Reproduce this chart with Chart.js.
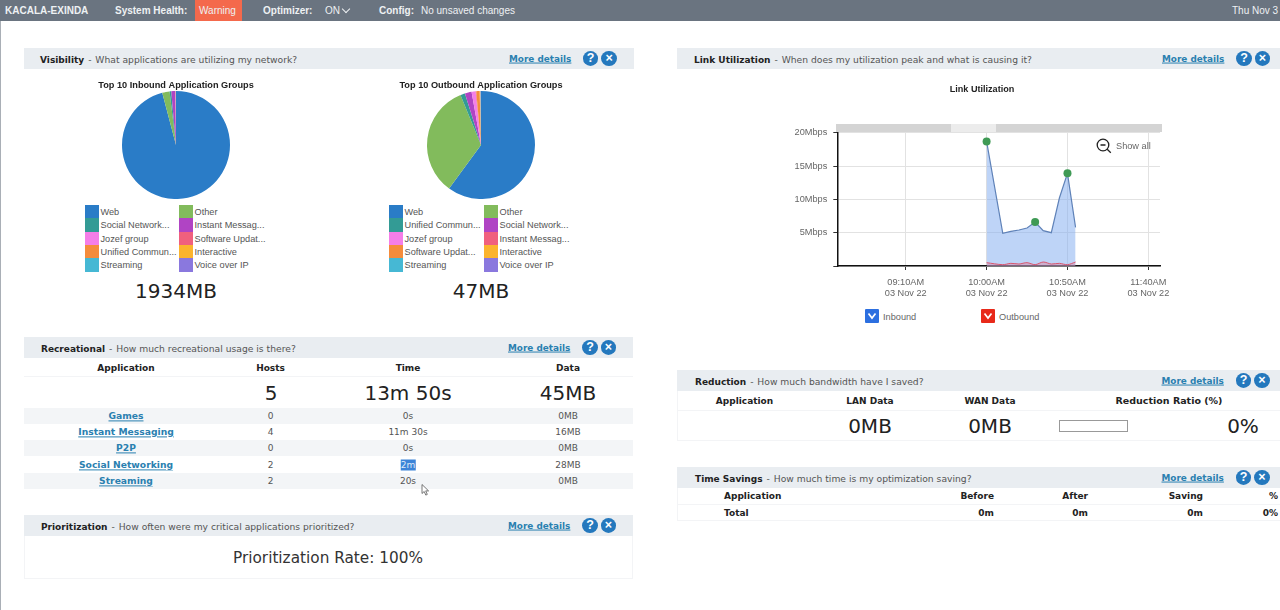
<!DOCTYPE html>
<html>
<head>
<meta charset="utf-8">
<title>KACALA-EXINDA</title>
<script src="https://cdn.jsdelivr.net/npm/chart.js@4"></script>
<style>
    html, body { margin: 0; padding: 0; background: #fff; }
    body { width: 1280px; height: 610px; overflow: hidden; position: relative; font-family: "DejaVu Sans", sans-serif; color: #333; filter: blur(0.3px); }
    .abs { position: absolute; white-space: nowrap; line-height: 1; }
    .box { position: absolute; }
    canvas { position: absolute; }
    #topbar { position: absolute; left: 0; top: 0; width: 1280px; height: 21px; background: #6a7480; }
    #leftline { position: absolute; left: 0; top: 21px; width: 1px; height: 589px; background: #a9afb6; }
    .head { position: absolute; height: 21px; background: #e9edf1; }
    .head-title { font-size: 9.2px; color: #555; }
    .head-title b { color: #222; font-size: 9px; margin-right: 1px; }
    .head-title i { font-style: normal; margin-right: 1px; }
    .more { font-size: 8.9px; font-weight: bold; color: #2a80b0; text-decoration: underline; }
    .btn { position: absolute; width: 15.5px; height: 15px; border-radius: 50%; background: #2478bd; color: #fff; font: bold 12.5px/15px "Liberation Sans", sans-serif; text-align: center; }
    .lg { font-family: "Liberation Sans", sans-serif; font-size: 9.2px; color: #555; }
    .big { font-size: 20px; color: #222; }
    .th { font-size: 9px; font-weight: bold; color: #222; }
    .td { font-size: 9px; color: #555; }
    .lnk { font-size: 9.2px; font-weight: bold; color: #2a80b0; text-decoration: underline; }
    .ax { font-family: "Liberation Sans", sans-serif; font-size: 9.2px; color: #666; }
</style>
</head>
<body>
<div id="topbar"></div>
<div id="leftline"></div>
<canvas id="inbound-pie" width="200" height="121" style="left:76px;top:78px"></canvas>
<canvas id="outbound-pie" width="200" height="121" style="left:381px;top:78px"></canvas>
<canvas id="link-chart" width="404" height="230" style="left:780px;top:70px"></canvas>
<script>
// Pie data, percent of total
const inboundGroups = ['Web', 'Other', 'Social Network...', 'Instant Messag...', 'Jozef group', 'Software Updat...', 'Unified Commun...', 'Interactive', 'Streaming', 'Voice over IP'];
const inboundShares = [95.9, 2.2, 0.5, 1.2, 0.05, 0.05, 0.03, 0.03, 0.02, 0.02];
const inboundColors = ['#2a7cc7', '#82bb5c', '#339b95', '#b044c4', '#f57ee8', '#f0607e', '#f58c3c', '#fbb42e', '#46b8d4', '#8a78de'];
const outboundGroups = ['Web', 'Other', 'Unified Commun...', 'Social Network...', 'Jozef group', 'Instant Messag...', 'Software Updat...', 'Interactive', 'Streaming', 'Voice over IP'];
const outboundShares = [60.0, 33.7, 1.4, 2.0, 1.2, 0.2, 1.0, 0.2, 0.1, 0.1];
const outboundColors = ['#2a7cc7', '#82bb5c', '#339b95', '#b044c4', '#f57ee8', '#f0607e', '#f58c3c', '#fbb42e', '#46b8d4', '#8a78de'];

// Link utilization, x is minutes since midnight, y is Mbps
const linkMinutes = [600, 610, 615, 620, 625, 630, 635, 640, 645, 650, 655];
const inboundMbps = [18.7, 4.9, 5.2, 5.4, 5.7, 6.6, 5.3, 5.0, 10.2, 13.9, 5.8];
const outboundMbps = [0.5, 0.2, 0.4, 0.3, 0.5, 0.2, 0.6, 0.3, 0.4, 0.2, 0.6];
const peakMinutes = [600, 630, 650];
const xTickMinutes = [550, 600, 650, 700];
const xTickTimes = ['09:10AM', '10:00AM', '10:50AM', '11:40AM'];
const xTickDate = '03 Nov 22';

// Recreational table
const recApps = ['Games', 'Instant Messaging', 'P2P', 'Social Networking', 'Streaming'];
const recHosts = ['0', '4', '0', '2', '2'];
const recTimes = ['0s', '11m 30s', '0s', '2m', '20s'];
const recData = ['0MB', '16MB', '0MB', '28MB', '0MB'];

function put(x, y, html, cls, align) {
    // align: c = centered on x, r = right edge on x, otherwise left edge on x
    const el = document.createElement('div');
    el.className = 'abs ' + (cls || '');
    el.innerHTML = html;
    el.style.left = x + 'px';
    el.style.top = y + 'px';
    const dx = align === 'c' ? '-50%' : (align === 'r' ? '-100%' : '0');
    el.style.transform = 'translate(' + dx + ',-50%)';
    document.body.appendChild(el);
    return el;
}

function rect(x, y, w, h, css) {
    const el = document.createElement('div');
    el.className = 'box';
    el.style.cssText = 'left:' + x + 'px;top:' + y + 'px;width:' + w + 'px;height:' + h + 'px;' + css;
    document.body.appendChild(el);
    return el;
}

function panelHead(x, y, w, title, question, textX, moreX, btnX) {
    const h = document.createElement('div');
    h.className = 'head';
    h.style.left = x + 'px';
    h.style.top = y + 'px';
    h.style.width = w + 'px';
    document.body.appendChild(h);
    put(textX, y + 12, '<b>' + title + '</b> <i>-</i> ' + question, 'head-title');
    put(moreX, y + 10.5, 'More details', 'more');
    [btnX, btnX + 18.5].forEach((bx, i) => {
        const b = document.createElement('div');
        b.className = 'btn';
        b.style.left = (bx - 7.75) + 'px';
        b.style.top = (y + 3) + 'px';
        b.textContent = i === 0 ? '?' : '×';
        document.body.appendChild(b);
    });
}

function drawLegend(groupsLeft, colorsLeft, groupsRight, colorsRight, x1, x2) {
    const rows = [212, 225, 239, 252, 265];
    rows.forEach((y, i) => {
        rect(x1 - 0.5, y - 6.7, 14, 13.4, 'background:' + colorsLeft[i]);
        put(x1 + 15.5, y + 1, groupsLeft[i], 'lg');
        rect(x2 - 0.5, y - 6.7, 14, 13.4, 'background:' + colorsRight[i]);
        put(x2 + 15.5, y + 1, groupsRight[i], 'lg');
    });
}

function buildTopbar() {
    rect(195, 0, 47, 21, 'background:#f4694c');
    const items = [[5, '<b>KACALA-EXINDA</b>'], [115, '<b>System Health:</b>'], [199, 'Warning'], [263, '<b>Optimizer:</b>'], [325, 'ON'], [379, '<b>Config:</b>'], [421, 'No unsaved changes'], [1232, 'Thu Nov 3']];
    items.forEach(it => {
        put(it[0], 10, it[1], '').style.cssText += ';font:10px "Liberation Sans";color:#eef1f3';
    });
    rect(343, 5.5, 5, 5, 'border-right:1.6px solid #eef1f3;border-bottom:1.6px solid #eef1f3;transform:rotate(45deg)');
}

function buildVisibility() {
    panelHead(24, 48, 610, 'Visibility', 'What applications are utilizing my network?', 40, 509, 590.7);
    // legend order runs down the columns
    const leftIdx = [0, 2, 4, 6, 8];
    const rightIdx = [1, 3, 5, 7, 9];
    drawLegend(leftIdx.map(i => inboundGroups[i]), leftIdx.map(i => inboundColors[i]),
        rightIdx.map(i => inboundGroups[i]), rightIdx.map(i => inboundColors[i]), 85, 179);
    drawLegend(leftIdx.map(i => outboundGroups[i]), leftIdx.map(i => outboundColors[i]),
        rightIdx.map(i => outboundGroups[i]), rightIdx.map(i => outboundColors[i]), 389, 484);
    put(176, 291, '1934MB', 'big', 'c');
    put(481, 291, '47MB', 'big', 'c');
}

function buildRecreational() {
    panelHead(24, 337, 609, 'Recreational', 'How much recreational usage is there?', 41, 508, 590);
    rect(24, 376, 609, 1, 'background:#f3f4f6');
    put(126, 367.5, 'Application', 'th', 'c');
    put(270.5, 367.5, 'Hosts', 'th', 'c');
    put(408, 367.5, 'Time', 'th', 'c');
    put(568, 367.5, 'Data', 'th', 'c');
    put(271, 393, '5', 'big', 'c');
    put(408, 393, '13m 50s', 'big', 'c');
    put(568, 393, '45MB', 'big', 'c');
    const rowY = [415.5, 432, 448, 464.5, 480.5];
    recApps.forEach((app, i) => {
        if (i % 2 === 0) rect(24, rowY[i] - 8, 609, 16.3, 'background:#f3f5f7');
    });
    recApps.forEach((app, i) => {
        put(126, rowY[i], app, 'lnk', 'c');
        put(270.5, rowY[i], recHosts[i], 'td', 'c');
        const t = put(408, rowY[i], recTimes[i], 'td', 'c');
        if (recTimes[i] === '2m') {
            t.style.background = '#3c84d8';
            t.style.color = '#dfeaf7';
            t.style.padding = '1px 0';
        }
        put(568, rowY[i], recData[i], 'td', 'c');
    });
    // mouse pointer left on the screen
    const cur = put(421, 490, '<svg width="9" height="13" viewBox="0 0 9 13"><path d="M1 1v9l2.2-2 1.6 3.6 1.5-.7L4.7 7.4H7.6z" fill="#fff" stroke="#555" stroke-width=".8"/></svg>', '');
    cur.style.lineHeight = '0';
}

function buildPrioritization() {
    panelHead(24, 515, 609, 'Prioritization', 'How often were my critical applications prioritized?', 41, 508, 590);
    rect(24, 536, 609, 43, 'border:1px solid #f3f4f6;border-top:none;box-sizing:border-box');
    put(328, 558.5, 'Prioritization Rate: 100%', '', 'c').style.cssText += ';font-size:15.3px;color:#333';
}

function buildLinkChrome() {
    panelHead(677, 48, 603, 'Link Utilization', 'When does my utilization peak and what is causing it?', 694, 1162, 1244);
    // navigator strip above the plot
    rect(836, 124, 326, 8, 'background:#d4d4d4');
    rect(950.5, 124, 45, 8, 'background:#ececec');
    const zoomIcon = put(1096, 146, '<svg width="16" height="16" viewBox="0 0 16 16"><circle cx="7" cy="7" r="5.8" fill="none" stroke="#222" stroke-width="1.3"/><path d="M4.5 7h5M11.2 11.2l3.6 3.6" stroke="#222" stroke-width="1.3" fill="none"/></svg>', '');
    zoomIcon.style.lineHeight = '0';
    put(1116, 147, 'Show all', 'ax');
    const check = '<svg width="10" height="8" viewBox="0 0 10 8"><path d="M1.5 1.5L5 6l3.5-4.5" fill="none" stroke="#fff" stroke-width="1.7"/></svg>';
    rect(865, 309, 14, 14, 'background:#2c6fe0;border-radius:1px');
    put(872, 316, check, '', 'c').style.lineHeight = '0';
    put(883, 318, 'Inbound', 'ax');
    rect(981, 309, 14, 14, 'background:#e8291a;border-radius:1px');
    put(988, 316, check, '', 'c').style.lineHeight = '0';
    put(999, 318, 'Outbound', 'ax');
}

function buildReduction() {
    panelHead(677, 370, 603, 'Reduction', 'How much bandwidth have I saved?', 695, 1161.5, 1243.5);
    rect(677, 391, 603, 50, 'border-left:1px solid #f3f4f6;border-bottom:1px solid #f3f4f6;box-sizing:border-box');
    rect(677, 410, 603, 1, 'background:#f3f4f6');
    put(744.5, 401, 'Application', 'th', 'c');
    put(870, 401, 'LAN Data', 'th', 'c');
    put(990, 401, 'WAN Data', 'th', 'c');
    put(1169, 401, 'Reduction Ratio (%)', 'th', 'c').style.fontSize = '9.5px';
    put(870, 426, '0MB', 'big', 'c');
    put(990, 426, '0MB', 'big', 'c');
    rect(1059, 419.5, 69, 12, 'background:#fff;border:1px solid #999;box-sizing:border-box');
    put(1243, 426, '0%', 'big', 'c');
}

function buildTimeSavings() {
    panelHead(677, 467, 603, 'Time Savings', 'How much time is my optimization saving?', 695, 1161.5, 1243.5);
    rect(677, 488, 603, 33, 'border-left:1px solid #f3f4f6;border-bottom:1px solid #f3f4f6;box-sizing:border-box');
    rect(677, 504, 603, 1, 'background:#f3f4f6');
    put(724, 496, 'Application', 'th');
    put(994, 496, 'Before', 'th', 'r');
    put(1088, 496, 'After', 'th', 'r');
    put(1203, 496, 'Saving', 'th', 'r');
    put(1278, 496, '%', 'th', 'r');
    put(724, 513, 'Total', 'th');
    put(994, 513, '0m', 'th', 'r');
    put(1088, 513, '0m', 'th', 'r');
    put(1203, 513, '0m', 'th', 'r');
    put(1278, 513, '0%', 'th', 'r');
}

function renderPie(canvasId, titleText, labels, values, colors) {
    const ctx = document.getElementById(canvasId).getContext('2d');
    return new Chart(ctx, {
        type: 'pie',
        data: {
            labels: labels,
            datasets: [{ data: values, backgroundColor: colors, borderWidth: 0, radius: 54 }]
        },
        options: {
            responsive: false,
            animation: false,
            layout: { padding: 0 },
            plugins: {
                legend: { display: false },
                title: {
                    display: true,
                    text: titleText,
                    color: '#222',
                    font: { family: '"Liberation Sans"', size: 9.2, weight: 'bold', lineHeight: 1.2 },
                    padding: { top: 2, bottom: 0 }
                }
            }
        }
    });
}

function renderLinkChart() {
    const ctx = document.getElementById('link-chart').getContext('2d');
    const toPoints = ys => linkMinutes.map((m, i) => ({ x: m, y: ys[i] }));
    const axisFont = { family: '"Liberation Sans"', size: 9.2, lineHeight: 1.2 };
    return new Chart(ctx, {
        type: 'line',
        data: {
            datasets: [
                {
                    label: 'Outbound',
                    data: toPoints(outboundMbps),
                    borderColor: '#d9566f',
                    backgroundColor: 'rgba(230,110,130,0.35)',
                    borderWidth: 1,
                    pointRadius: 0,
                    tension: 0.3,
                    fill: 'origin'
                },
                {
                    label: 'Inbound',
                    data: toPoints(inboundMbps),
                    borderColor: '#5f82b8',
                    backgroundColor: 'rgba(125,170,240,0.5)',
                    borderWidth: 1.2,
                    pointRadius: c => (peakMinutes.includes(linkMinutes[c.dataIndex]) ? 4 : 0),
                    pointBackgroundColor: '#3f9a55',
                    pointBorderWidth: 0,
                    tension: 0,
                    fill: 'origin'
                }
            ]
        },
        options: {
            responsive: false,
            animation: false,
            layout: { padding: 0 },
            plugins: {
                legend: { display: false },
                title: {
                    display: true,
                    text: 'Link Utilization',
                    color: '#222',
                    font: { family: '"Liberation Sans"', size: 9.1, weight: 'bold', lineHeight: 1.2 },
                    padding: { top: 14, bottom: 37.8 }
                }
            },
            scales: {
                x: {
                    type: 'linear',
                    min: 507.7,
                    max: 707.2,
                    afterBuildTicks: axis => { axis.ticks = xTickMinutes.map(v => ({ value: v })); },
                    // paddingRight leaves room after the plot without moving the centred title
                    afterFit: axis => { axis.height = 34; axis.paddingRight = 24; },
                    border: { color: '#111', width: 1.5 },
                    grid: { color: '#e2e2e2', tickColor: '#333', tickLength: 4 },
                    ticks: {
                        autoSkip: false,
                        maxRotation: 0,
                        padding: 6.5,
                        color: '#666',
                        font: axisFont,
                        callback: v => [xTickTimes[xTickMinutes.indexOf(v)], xTickDate]
                    }
                },
                y: {
                    min: 0,
                    max: 20,
                    afterFit: axis => { axis.width = 57.3; },
                    border: { color: '#111', width: 1.5 },
                    grid: { color: '#e2e2e2', tickColor: '#333', tickLength: 4 },
                    ticks: {
                        stepSize: 5,
                        padding: 6,
                        color: '#666',
                        font: axisFont,
                        callback: v => (v === 0 ? '' : v + 'Mbps')
                    }
                }
            }
        }
    });
}

buildTopbar();
buildVisibility();
buildRecreational();
buildPrioritization();
buildLinkChrome();
buildReduction();
buildTimeSavings();
renderPie('inbound-pie', 'Top 10 Inbound Application Groups', inboundGroups, inboundShares, inboundColors);
renderPie('outbound-pie', 'Top 10 Outbound Application Groups', outboundGroups, outboundShares, outboundColors);
renderLinkChart();
</script>
</body>
</html>
